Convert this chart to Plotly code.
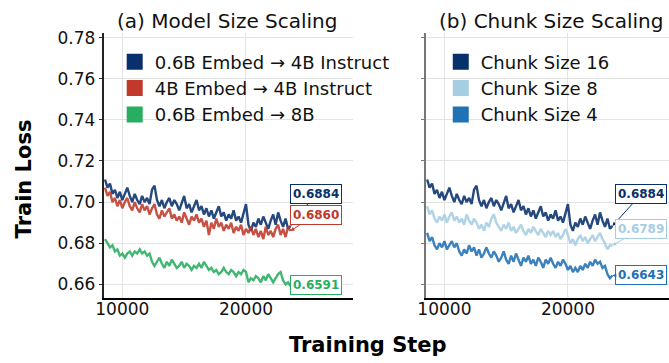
import plotly.graph_objects as go

# ---------------- data ----------------
steps = [8600 + 200 * i for i in range(76)]

loss_06b_4b_instr = [  # also "Chunk Size 16"
    0.711, 0.707, 0.709, 0.704, 0.706, 0.702, 0.705, 0.701, 0.704, 0.707,
    0.703, 0.700, 0.704, 0.701, 0.699, 0.703, 0.700, 0.702, 0.699, 0.706,
    0.708, 0.701, 0.698, 0.701, 0.697, 0.700, 0.702, 0.698, 0.701, 0.699,
    0.696, 0.700, 0.703, 0.697, 0.699, 0.695, 0.698, 0.701, 0.696, 0.698,
    0.694, 0.697, 0.693, 0.696, 0.692, 0.695, 0.698, 0.693, 0.695, 0.691,
    0.694, 0.692, 0.696, 0.691, 0.693, 0.690, 0.694, 0.699, 0.689, 0.686,
    0.690, 0.688, 0.692, 0.689, 0.693, 0.690, 0.687, 0.691, 0.694, 0.689,
    0.695, 0.691, 0.688, 0.692, 0.687, 0.6884]

loss_4b_4b_instr = [
    0.707, 0.703, 0.705, 0.700, 0.702, 0.698, 0.701, 0.697, 0.700, 0.702,
    0.698, 0.696, 0.700, 0.697, 0.695, 0.699, 0.696, 0.698, 0.694, 0.697,
    0.699, 0.694, 0.692, 0.696, 0.693, 0.695, 0.697, 0.692, 0.694, 0.691,
    0.693, 0.690, 0.695, 0.692, 0.689, 0.693, 0.691, 0.694, 0.690, 0.692,
    0.688, 0.691, 0.684, 0.690, 0.687, 0.692, 0.688, 0.690, 0.686, 0.689,
    0.687, 0.690, 0.685, 0.688, 0.686, 0.689, 0.684, 0.687, 0.685, 0.688,
    0.684, 0.687, 0.683, 0.686, 0.682, 0.688, 0.684, 0.686, 0.683, 0.687,
    0.689, 0.684, 0.687, 0.683, 0.688, 0.6860]

loss_06b_8b = [
    0.682, 0.680, 0.678, 0.679, 0.676, 0.677, 0.674, 0.675, 0.673, 0.675,
    0.676, 0.674, 0.676, 0.675, 0.677, 0.675, 0.676, 0.674, 0.675, 0.671,
    0.669, 0.671, 0.673, 0.670, 0.668, 0.671, 0.669, 0.672, 0.670, 0.668,
    0.669, 0.671, 0.668, 0.670, 0.669, 0.667, 0.669, 0.668, 0.670, 0.668,
    0.671, 0.669, 0.667, 0.668, 0.666, 0.667, 0.665, 0.666, 0.668, 0.666,
    0.665, 0.667, 0.666, 0.664, 0.666, 0.665, 0.667, 0.666, 0.661, 0.663,
    0.662, 0.664, 0.663, 0.661, 0.664, 0.662, 0.665, 0.663, 0.661, 0.663,
    0.665, 0.666, 0.662, 0.660, 0.661, 0.6591]

loss_chunk16 = loss_06b_4b_instr

loss_chunk8 = [
    0.698, 0.694, 0.696, 0.692, 0.690, 0.693, 0.691, 0.694, 0.690, 0.693,
    0.695, 0.691, 0.693, 0.690, 0.692, 0.689, 0.694, 0.691, 0.689, 0.692,
    0.690, 0.687, 0.689, 0.686, 0.690, 0.688, 0.692, 0.694, 0.690, 0.688,
    0.686, 0.689, 0.687, 0.690, 0.686, 0.688, 0.685, 0.687, 0.689, 0.686,
    0.684, 0.687, 0.685, 0.688, 0.686, 0.684, 0.687, 0.685, 0.683, 0.686,
    0.684, 0.686, 0.683, 0.685, 0.682, 0.684, 0.687, 0.684, 0.680, 0.682,
    0.679, 0.682, 0.684, 0.681, 0.683, 0.680, 0.682, 0.684, 0.681, 0.683,
    0.685, 0.682, 0.680, 0.677, 0.679, 0.6789]

loss_chunk4 = [
    0.685, 0.681, 0.683, 0.679, 0.677, 0.680, 0.678, 0.681, 0.677, 0.679,
    0.681, 0.678, 0.680, 0.676, 0.674, 0.677, 0.675, 0.679, 0.676, 0.678,
    0.674, 0.677, 0.673, 0.675, 0.678, 0.675, 0.673, 0.676, 0.674, 0.671,
    0.673, 0.676, 0.672, 0.670, 0.674, 0.671, 0.675, 0.672, 0.669, 0.673,
    0.671, 0.674, 0.670, 0.672, 0.669, 0.673, 0.671, 0.668, 0.672, 0.670,
    0.673, 0.670, 0.668, 0.671, 0.669, 0.672, 0.670, 0.667, 0.669, 0.666,
    0.668, 0.666, 0.669, 0.667, 0.670, 0.668, 0.671, 0.669, 0.672, 0.670,
    0.671, 0.668, 0.669, 0.665, 0.663, 0.6643]

left_names = ["0.6B Embed → 4B Instruct", "4B Embed → 4B Instruct", "0.6B Embed → 8B"]
right_names = ["Chunk Size 16", "Chunk Size 8", "Chunk Size 4"]
left_series = [loss_06b_4b_instr, loss_4b_4b_instr, loss_06b_8b]
right_series = [loss_chunk16, loss_chunk8, loss_chunk4]
left_final = ["0.6884", "0.6860", "0.6591"]
right_final = ["0.6884", "0.6789", "0.6643"]

x_ticks = [10000, 20000]
y_ticks = [0.66, 0.68, 0.70, 0.72, 0.74, 0.76, 0.78]

# ---------------- styles ----------------
left_colors = ["#08306b", "#c0392b", "#27ae60"]
right_colors = ["#08306b", "#a6cee3", "#2171b5"]
FONT = "DejaVu Sans"
W, H = 669, 363

def px_x(p):
    return p / W

def px_y(p):
    return 1 - p / H

fig = go.Figure()

for name, ys, c in zip(left_names, left_series, left_colors):
    fig.add_trace(go.Scatter(x=steps, y=ys, mode="lines", line=dict(color=c, width=2.4),
                             opacity=0.88, showlegend=False, xaxis="x", yaxis="y"))
    fig.add_trace(go.Scatter(x=[None], y=[None], mode="markers", name=name,
                             marker=dict(symbol="square", size=16, color=c),
                             legend="legend", xaxis="x", yaxis="y"))

for name, ys, c in zip(right_names, right_series, right_colors):
    fig.add_trace(go.Scatter(x=steps, y=ys, mode="lines", line=dict(color=c, width=2.4),
                             opacity=0.88, showlegend=False, xaxis="x2", yaxis="y2"))
    fig.add_trace(go.Scatter(x=[None], y=[None], mode="markers", name=name,
                             marker=dict(symbol="square", size=16, color=c),
                             legend="legend2", xaxis="x2", yaxis="y2"))

yrange = [0.65318, 0.7824]
left_dom = [px_x(96.7), px_x(349)]
right_dom = [px_x(422.7), 1.0]
ydom = [px_y(297.5), px_y(28)]

common_x = dict(tickvals=x_ticks, ticktext=[str(v) for v in x_ticks], showgrid=True,
                gridcolor="#e3e3e3", gridwidth=1, zeroline=False, showline=True,
                linecolor="#000000", linewidth=1.5, ticks="", ticklen=0,
                ticklabelstandoff=-6,
                tickfont=dict(family=FONT, size=17, color="#111"))
common_y = dict(range=yrange, tickvals=y_ticks, showgrid=True, gridcolor="#e3e3e3",
                gridwidth=1, zeroline=False, showline=True, ticks="outside", ticklen=3,
                tickfont=dict(family=FONT, size=17, color="#111"))

fig.update_layout(
    width=W, height=H, margin=dict(l=0, r=0, t=0, b=0),
    paper_bgcolor="white", plot_bgcolor="white",
    xaxis=dict(domain=left_dom, range=[8480, 28640], anchor="y", **common_x),
    xaxis2=dict(domain=right_dom, range=[8480, 28184], anchor="y2", **common_x),
    yaxis=dict(domain=ydom, anchor="x", linecolor="#222222", linewidth=1.6,
               tickcolor="#333333", tickformat=".2f", **common_y),
    yaxis2=dict(domain=ydom, anchor="x2", linecolor="#777777", linewidth=2,
                tickcolor="#777777", showticklabels=False, **common_y),
    legend=dict(x=px_x(108), y=px_y(39), xanchor="left", yanchor="top",
                bgcolor="rgba(0,0,0,0)", font=dict(family=FONT, size=18, color="#111"),
                itemsizing="trace", tracegroupgap=0),
    legend2=dict(x=px_x(438), y=px_y(39), xanchor="left", yanchor="top",
                 bgcolor="rgba(0,0,0,0)", font=dict(family=FONT, size=18, color="#111"),
                 itemsizing="trace", tracegroupgap=0),
    showlegend=True,
)

anns = []
# panel titles
anns.append(dict(text="(a) Model Size Scaling", x=px_x(222), y=px_y(16), xref="paper",
                 yref="paper", xanchor="center", yanchor="middle", showarrow=False,
                 font=dict(family=FONT, size=20, color="#111")))
anns.append(dict(text="(b) Chunk Size Scaling", x=px_x(549.5), y=px_y(16), xref="paper",
                 yref="paper", xanchor="center", yanchor="middle", showarrow=False,
                 font=dict(family=FONT, size=20, color="#111")))
# axis titles
anns.append(dict(text="<b>Training Step</b>", x=px_x(364), y=px_y(345), xref="paper",
                 yref="paper", xanchor="center", yanchor="middle", showarrow=False,
                 font=dict(family=FONT, size=21, color="#000")))
anns.append(dict(text="<b>Train Loss</b>", x=px_x(16), y=px_y(176), xref="paper",
                 yref="paper", xanchor="center", yanchor="middle", showarrow=False,
                 textangle=-90, font=dict(family=FONT, size=21, color="#000")))

left_offsets = [(25, -32), (25, -16), (25, -1)]
right_offsets = [(29, -32), (29, -17), (29, -1)]
for ys, c, lab, (ax, ay) in zip(left_series, left_colors, left_final, left_offsets):
    anns.append(dict(x=steps[-1], y=ys[-1], xref="x", yref="y", text="<b>%s</b>" % lab,
                     showarrow=True, ax=ax, ay=ay, arrowhead=2, arrowsize=0.8, arrowwidth=1,
                     arrowcolor=c, bordercolor=c, borderwidth=1, borderpad=2,
                     bgcolor="white", font=dict(family=FONT, size=12, color=c)))
for ys, c, lab, (ax, ay) in zip(right_series, right_colors, right_final, right_offsets):
    anns.append(dict(x=steps[-1], y=ys[-1], xref="x2", yref="y2", text="<b>%s</b>" % lab,
                     showarrow=True, ax=ax, ay=ay, arrowhead=2, arrowsize=0.8, arrowwidth=1,
                     arrowcolor=c, bordercolor=c, borderwidth=1, borderpad=2,
                     bgcolor="white", font=dict(family=FONT, size=12, color=c)))

fig.update_layout(annotations=anns)
fig.write_html("out.html")
